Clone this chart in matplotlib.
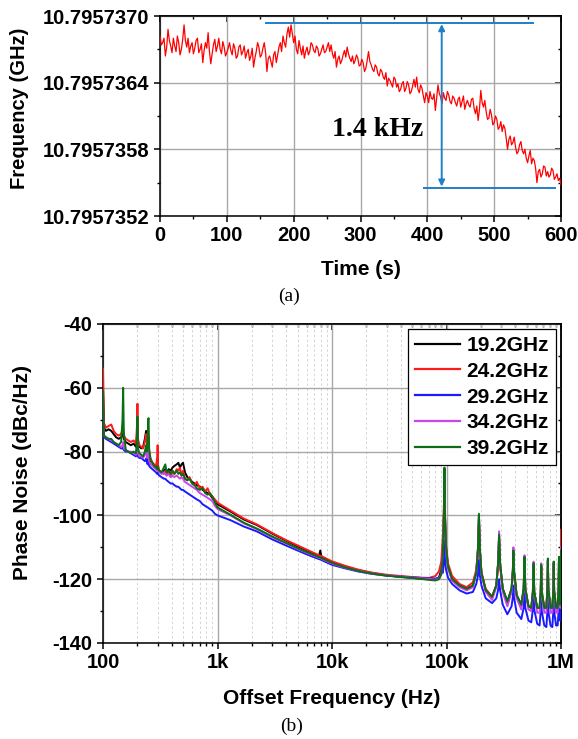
import numpy as np
import matplotlib
matplotlib.use('Agg')
import matplotlib.pyplot as plt
from matplotlib.ticker import FixedLocator, NullFormatter, LogLocator

plt.rcParams['font.family'] = ['Liberation Sans', 'DejaVu Sans']
plt.rcParams['font.weight'] = 'bold'
plt.rcParams['axes.linewidth'] = 1.1

# ---------------- (a) frequency drift ----------------
time_step_s = 2
freq_dev_hz = [  # deviation above 10.7957352 GHz, Hz, one value every 2 s
    1620, 1540, 1560, 1600, 1440, 1520, 1680, 1580, 1530, 1470,
    1600, 1530, 1480, 1620, 1560, 1450, 1500, 1590, 1720, 1580,
    1520, 1600, 1470, 1530, 1560, 1460, 1510, 1580, 1600, 1470,
    1500, 1550, 1380, 1490, 1560, 1510, 1650, 1480, 1370, 1460,
    1540, 1590, 1480, 1530, 1600, 1500, 1460, 1570, 1520, 1440,
    1470, 1510, 1560, 1490, 1450, 1550, 1510, 1420, 1440, 1520,
    1540, 1450, 1480, 1530, 1420, 1470, 1500, 1400, 1440, 1510,
    1340, 1420, 1480, 1560, 1520, 1430, 1450, 1510, 1560, 1470,
    1300, 1420, 1440, 1390, 1340, 1450, 1480, 1380, 1450, 1520,
    1560, 1480, 1620, 1560, 1520, 1640, 1700, 1610, 1720, 1640,
    1560, 1620, 1500, 1460, 1580, 1510, 1450, 1530, 1420, 1480,
    1520, 1450, 1480, 1560, 1540, 1490, 1470, 1530, 1510, 1440,
    1460, 1500, 1540, 1470, 1480, 1520, 1560, 1480, 1540, 1460,
    1420, 1480, 1340, 1410, 1440, 1370, 1400, 1450, 1490, 1430,
    1520, 1460, 1420, 1390, 1440, 1370, 1400, 1450, 1420, 1350,
    1360, 1410, 1380, 1300, 1330, 1400, 1480, 1390, 1360, 1320,
    1300, 1360, 1340, 1280, 1260, 1320, 1300, 1250, 1230, 1290,
    1170, 1240, 1220, 1190, 1160, 1250, 1230, 1160, 1190, 1120,
    1140, 1190, 1210, 1120, 1150, 1210, 1180, 1100, 1120, 1170,
    1230, 1160, 1250, 1140, 1110, 1180, 1150, 1080, 1020, 1110,
    1080, 1020, 1120, 1060, 1050, 1100, 950, 1070, 1180, 1100,
    1070, 1010, 1110, 1060, 1040, 1120, 1090, 1030, 1010, 1080,
    1060, 1020, 990, 1050, 1070, 980, 1030, 1080, 960, 1010,
    1040, 1000, 980, 1050, 1060, 970, 920, 990, 860, 960,
    1130, 1020, 980, 1040, 940, 870, 880, 960, 910, 820,
    840, 900, 870, 780, 800, 850, 760, 820, 790, 700,
    600, 690, 720, 640, 660, 710, 620, 560, 580, 640,
    670, 590, 560, 600, 520, 480, 540, 590, 470, 520,
    500, 430, 300, 400, 420, 350, 380, 450, 440, 360,
    400, 350, 370, 430, 410, 330, 350, 380, 320, 340,
    280]
time_s = np.arange(len(freq_dev_hz)) * time_step_s
base_ghz = 10.7957352
yticks_a = [0, 600, 1200, 1800]
yticks_a_minor = [300, 900, 1500]
xticks_a = [0, 100, 200, 300, 400, 500, 600]
xticks_a_minor = [50, 150, 250, 350, 450, 550]
span_label = '1.4 kHz'

# ---------------- (b) phase noise ----------------
offset_freq_hz = [
    100, 102, 106, 112, 118, 124, 130, 137, 144, 148,
    150, 152, 158, 166, 175, 185, 194, 198, 200, 202,
    208, 216, 224, 232, 238, 240, 242, 246, 248, 250,
    253, 260, 270, 280, 290, 298, 300, 302, 310, 325,
    340, 350, 360, 375, 390, 405, 420, 440, 455, 470,
    485, 500, 520, 545, 570, 600, 630, 660, 700, 740,
    780, 820, 860, 900, 950, 1000,
    1300, 1700, 2200, 3000, 4000, 5000, 6500, 7700, 7900, 8100,
    10000, 13000, 17000, 22000, 30000, 40000, 50000, 60000, 70000, 80000,
    86000, 90000,
    93000, 95000, 96000, 97000, 99000, 103000, 112000, 130000, 150000, 170000,
    182000, 188000, 192000, 196000, 202000, 220000, 250000, 272000, 282000, 288000,
    294000, 310000, 340000, 370000, 380000, 384000, 388000, 410000, 450000, 472000,
    480000, 488000, 520000, 550000, 568000, 576000, 584000, 620000, 650000, 665000,
    672000, 679000, 715000, 745000, 761000, 768000, 775000, 810000, 840000, 857000,
    864000, 871000, 905000, 935000, 953000, 960000, 967000, 985000, 995000, 1000000]

pn_19_2 = [
    -60, -72.5, -73.5, -73, -73.5, -74.5, -75.5, -76, -75.5, -75,
    -74, -76, -77, -77.5, -78, -77.5, -78.5, -75, -72, -77,
    -78.5, -79, -78.5, -76, -73.5, -74, -77, -79, -78, -77,
    -81, -82.5, -83.5, -84.5, -85, -84, -82, -85, -86, -86.5,
    -86, -85.5, -86.5, -85.5, -86, -85, -84.5, -84, -83.5, -85,
    -84, -83.5, -86.5, -88, -88.5, -89.5, -90, -90.5, -91, -92,
    -92.5, -93, -93.5, -94.5, -95.5, -96.5,
    -98.8, -101.3, -103, -105.7, -108, -109.7, -111.5, -112.7, -111, -113,
    -114.6, -116, -117.2, -118, -118.8, -119.3, -119.6, -119.8, -120, -120.2,
    -119.5, -117,
    -110, -99, -85.5, -100, -110, -116, -120, -122, -123, -122,
    -118, -111, -100, -111, -118, -123.5, -125.5, -122, -115.5, -106.5,
    -115.5, -123, -127, -123, -117, -111.5, -117, -125, -128, -123,
    -113.5, -123, -128.5, -129, -124, -115.5, -124, -129, -129, -124,
    -116, -124, -129, -129, -123, -114, -123, -129, -129, -123.5,
    -115, -123.5, -129, -129, -123, -113.5, -123, -128, -124, -111]

pn_24_2 = [
    -54, -71, -72.5, -72, -71.5, -73.5, -74.5, -75, -74.5, -73,
    -72.5, -75, -76, -76.5, -77, -76.5, -77.5, -72, -65, -76,
    -78, -78.5, -79, -77, -74.5, -75, -77, -78, -76, -75,
    -80, -82, -83.5, -84, -84.5, -82, -78, -84, -86, -86.5,
    -87, -86, -87.5, -86.5, -88, -86, -87, -85.5, -86, -85,
    -87.5, -86, -88.5, -89, -88, -90, -90.5, -89.5, -91.5, -91,
    -92.5, -91.5, -93.5, -94, -95, -96,
    -98.5, -101, -102.8, -105.5, -107.8, -109.4, -111.3, -112.5, -112.6, -112.8,
    -114.4, -115.8, -117, -117.9, -118.6, -119, -119.3, -119.5, -119.6, -119,
    -117.5, -114.5,
    -106, -96, -87, -100, -109, -115, -119, -121.5, -122.5, -121,
    -117, -111, -101.5, -112, -118, -123, -125.5, -122, -116, -108,
    -116, -123, -127.5, -123.5, -118, -112.5, -118, -125.5, -128.5, -123.5,
    -114, -123.5, -128.5, -129, -124.5, -115.5, -124.5, -129, -129, -124.5,
    -116, -124.5, -129, -129, -123.5, -114.5, -123.5, -129, -129, -124,
    -115, -124, -129, -129, -123.5, -114, -123.5, -127, -120, -104.5]

pn_29_2 = [
    -66, -75.5, -76, -76.5, -77, -77.5, -78, -78.5, -79, -79,
    -78.5, -79.5, -80, -80, -80.5, -81, -81.5, -80.5, -79.5, -81.5,
    -82, -82, -82.5, -83, -82.5, -82, -83.5, -84, -83, -82.5,
    -84.5, -85, -85.5, -86, -86.5, -87, -86.5, -87, -87.5, -88,
    -88.5, -88.5, -89, -89.5, -90, -90, -90.5, -91, -91, -91.5,
    -92, -92, -92.5, -93, -93.5, -94, -94.5, -95, -95.5, -96.5,
    -97, -97.5, -98, -98.5, -99.5, -100,
    -101.5, -103.5, -105, -107.5, -109.5, -111, -112.7, -113.7, -113.8, -114,
    -115.5, -116.6, -117.6, -118.3, -118.9, -119.2, -119.4, -119.6, -119.7, -119.8,
    -119.5, -118,
    -118, -114, -108, -114, -117, -119.5, -121.5, -123.5, -124.5, -124,
    -121.5, -119, -114, -119, -122, -126, -127.5, -126, -123.5, -120,
    -123.5, -128, -131, -128.5, -125.5, -122, -125.5, -130.5, -132.5, -129,
    -123.5, -129, -133, -133.5, -129.5, -125, -129.5, -134, -134.5, -130,
    -126, -130, -134.5, -135, -130, -125, -130, -134.5, -135, -130,
    -125.5, -130, -134.5, -134.5, -130, -125, -130, -133, -131, -123]

pn_34_2 = [
    -68, -75, -75.5, -76, -76.5, -77, -77.5, -78, -78.5, -78,
    -77, -79, -79.5, -80, -80, -80.5, -81, -79, -76, -80.5,
    -81.5, -81.5, -82, -81, -79, -79.5, -82, -81, -78, -77,
    -83, -84, -84.5, -85, -85.5, -86, -85, -86, -86.5, -87,
    -86.5, -87, -87.5, -87, -88, -87.5, -88, -87.5, -88, -88.5,
    -88, -88.5, -89.5, -90, -90.5, -91, -91.5, -92, -93, -93.5,
    -94, -94.5, -95, -95.5, -97, -98,
    -100, -102.5, -104.3, -106.8, -108.9, -110.5, -112.2, -113.3, -113.4, -113.6,
    -115.1, -116.4, -117.4, -118.2, -118.8, -119.2, -119.5, -119.7, -119.9, -120.2,
    -119.8, -118.5,
    -111, -100, -86, -101, -111, -116.5, -120.5, -122.5, -123.5, -122.5,
    -118, -111, -100, -111, -118.5, -124, -126.5, -122.5, -115, -105,
    -115, -124, -128.5, -124, -117, -110, -117, -126, -129.5, -123.5,
    -112.5, -123.5, -129.5, -130, -124.5, -114.5, -124.5, -130.5, -130.5, -124.5,
    -115, -124.5, -130.5, -130.5, -123.5, -114, -123.5, -130.5, -130.5, -124,
    -114.5, -124, -130.5, -130.5, -123.5, -113, -123.5, -129, -125, -110]

pn_39_2 = [
    -61, -75, -75.5, -76, -76, -77, -77.5, -78, -77, -70,
    -60, -74, -79.5, -80, -80.5, -80, -80.5, -76, -69, -79,
    -80.5, -81, -81.5, -80, -78, -78.5, -80, -75, -70, -69.5,
    -79, -83, -83.5, -84.5, -85, -85.5, -84.5, -85.5, -86, -86.5,
    -85, -84, -86.5, -86, -87, -86, -87, -86, -87, -86.5,
    -87.5, -87, -88.5, -89, -88.5, -90, -90.5, -91.5, -92, -91.5,
    -93, -93.5, -93, -94, -96, -97.5,
    -99.8, -102.3, -104.1, -106.6, -108.7, -110.3, -112, -113.1, -113.2, -113.4,
    -114.9, -116.3, -117.4, -118.2, -118.9, -119.3, -119.6, -119.9, -120.2, -120.4,
    -120, -118.5,
    -112, -100, -85, -100, -110, -116, -120, -122, -123, -122,
    -118, -111, -99.5, -111, -118, -123.5, -125.5, -122, -115, -106,
    -115, -123, -127, -123, -117, -111, -117, -125, -128, -123,
    -113, -123, -128.5, -129, -124, -115, -124, -129, -129, -124,
    -115.5, -124, -129, -129, -123, -113.5, -123, -129, -129, -123.5,
    -114.5, -123.5, -129, -129, -123, -113, -123, -128, -124, -111]

series_labels = ['19.2GHz', '24.2GHz', '29.2GHz', '34.2GHz', '39.2GHz']
series_values = [pn_19_2, pn_24_2, pn_29_2, pn_34_2, pn_39_2]
series_colors = ['#000000', '#ff1a1a', '#1a1aff', '#cc44ee', '#0a6e14']
xticks_b = [1e2, 1e3, 1e4, 1e5, 1e6]
xticklabels_b = ['100', '1k', '10k', '100k', '1M']
yticks_b = [-140, -120, -100, -80, -60, -40]
yticks_b_minor = [-130, -110, -90, -70, -50]

TICK_FS = 14.5
LABEL_FS = 15

fig = plt.figure(figsize=(5.78, 7.39), dpi=100)
W, H = 578, 739

def axes_rect(x0, y0, x1, y1):
    return [x0 / W, 1 - y1 / H, (x1 - x0) / W, (y1 - y0) / H]

def style_ticks(ax):
    ax.tick_params(axis='both', which='major', direction='out', length=4.5,
                   width=1.1, labelsize=TICK_FS, pad=3)
    ax.tick_params(axis='both', which='minor', direction='out', length=2.5,
                   width=1.0)
    for lab in ax.get_xticklabels() + ax.get_yticklabels():
        lab.set_fontweight('bold')

# ---------- panel (a) ----------
ax1 = fig.add_axes(axes_rect(160, 16, 561, 216))
ax1.plot(time_s, freq_dev_hz, color='#ff0000', lw=0.9, zorder=3)
ax1.set_xlim(0, 600)
ax1.set_ylim(0, 1800)
ax1.xaxis.set_major_locator(FixedLocator(xticks_a))
ax1.xaxis.set_minor_locator(FixedLocator(xticks_a_minor))
ax1.yaxis.set_major_locator(FixedLocator(yticks_a))
ax1.yaxis.set_minor_locator(FixedLocator(yticks_a_minor))
ax1.set_yticklabels([f'{base_ghz + v * 1e-9:.7f}' for v in yticks_a])
ax1.set_xticklabels([str(v) for v in xticks_a])
ax1.grid(True, which='major', color='#a8a8a8', lw=1.0)
ax1.set_axisbelow(True)
style_ticks(ax1)
ax1.set_xlabel('Time (s)', fontsize=LABEL_FS, fontweight='bold')
ax1.xaxis.label.set_va('center')
ax1.xaxis.set_label_coords(0.5, -0.2675)
ax1.set_ylabel('Frequency (GHz)', fontsize=14.5, fontweight='bold')
ax1.yaxis.label.set_va('center')
ax1.yaxis.set_label_coords(-0.350, 0.5375)

sec = ax1.secondary_xaxis('top')
sec.xaxis.set_major_locator(FixedLocator(xticks_a))
sec.xaxis.set_minor_locator(FixedLocator(xticks_a_minor))
sec.tick_params(which='major', direction='in', length=4.5, width=1.1, labeltop=False)
sec.tick_params(which='minor', direction='in', length=2.5, width=1.0)
sec.xaxis.set_major_formatter(NullFormatter())
secy = ax1.secondary_yaxis('right')
secy.yaxis.set_major_locator(FixedLocator(yticks_a))
secy.yaxis.set_minor_locator(FixedLocator(yticks_a_minor))
secy.tick_params(which='major', direction='in', length=4.5, width=1.1, labelright=False)
secy.tick_params(which='minor', direction='in', length=2.5, width=1.0)
secy.yaxis.set_major_formatter(NullFormatter())

# span annotation
ann_color = '#1f7fc8'
top_level, bottom_level = 1737, 255
ax1.plot([159, 558], [top_level, top_level], color=ann_color, lw=1.4, zorder=4)
ax1.plot([395, 591], [bottom_level, bottom_level], color=ann_color, lw=1.4, zorder=4)
ax1.annotate('', xy=(421.5, top_level - 10), xytext=(421.5, bottom_level + 10),
             arrowprops=dict(arrowstyle='<|-|>', color=ann_color, lw=1.4,
                             mutation_scale=9, shrinkA=0, shrinkB=0), zorder=4)
ax1.text(325, 775, span_label, fontsize=20, fontweight='bold',
         family=['Liberation Serif', 'DejaVu Serif'], ha='center', va='center', zorder=5)

fig.text(289 / W, 1 - 296 / H, '(a)', fontsize=14, fontweight='normal',
         family=['Liberation Serif', 'DejaVu Serif'], ha='center', va='center')

# ---------- panel (b) ----------
ax2 = fig.add_axes(axes_rect(103, 324, 561, 643))
for vals, lab, col in zip(series_values, series_labels, series_colors):
    ax2.plot(offset_freq_hz, vals, color=col, lw=1.4, label=lab, zorder=3)
ax2.set_xscale('log')
ax2.set_xlim(1e2, 1e6)
ax2.set_ylim(-140, -40)
ax2.xaxis.set_major_locator(FixedLocator(xticks_b))
ax2.set_xticklabels(xticklabels_b)
ax2.xaxis.set_minor_locator(LogLocator(base=10, subs=np.arange(2, 10)))
ax2.xaxis.set_minor_formatter(NullFormatter())
ax2.yaxis.set_major_locator(FixedLocator(yticks_b))
ax2.yaxis.set_minor_locator(FixedLocator(yticks_b_minor))
ax2.set_yticklabels([str(v) for v in yticks_b])
ax2.grid(True, which='major', color='#a8a8a8', lw=1.0)
ax2.grid(True, which='minor', axis='x', color='#d4d4d4', lw=0.7, ls=(0, (2.5, 2.5)))
ax2.set_axisbelow(True)
style_ticks(ax2)
ax2.set_xlabel('Offset Frequency (Hz)', fontsize=LABEL_FS, fontweight='bold')
ax2.xaxis.label.set_va('center')
ax2.xaxis.set_label_coords(0.5, -0.1755)
ax2.set_ylabel('Phase Noise (dBc/Hz)', fontsize=LABEL_FS, fontweight='bold')
ax2.yaxis.label.set_va('center')
ax2.yaxis.set_label_coords(-0.175, 0.534)

sec2 = ax2.secondary_xaxis('top')
sec2.xaxis.set_major_locator(FixedLocator(xticks_b))
sec2.xaxis.set_minor_locator(LogLocator(base=10, subs=np.arange(2, 10)))
sec2.xaxis.set_major_formatter(NullFormatter())
sec2.xaxis.set_minor_formatter(NullFormatter())
sec2.tick_params(which='major', direction='in', length=4.5, width=1.1)
sec2.tick_params(which='minor', direction='in', length=2.5, width=1.0)
secy2 = ax2.secondary_yaxis('right')
secy2.yaxis.set_major_locator(FixedLocator(yticks_b))
secy2.yaxis.set_minor_locator(FixedLocator(yticks_b_minor))
secy2.yaxis.set_major_formatter(NullFormatter())
secy2.tick_params(which='major', direction='in', length=4.5, width=1.1)
secy2.tick_params(which='minor', direction='in', length=2.5, width=1.0)

leg = ax2.legend(loc='upper right', prop={'weight': 'bold', 'size': LABEL_FS},
                 frameon=True, fancybox=False, edgecolor='black', framealpha=1,
                 borderaxespad=0.25, handlelength=2.2, handletextpad=0.3,
                 labelspacing=0.33, borderpad=0.32)
leg.get_frame().set_linewidth(0.9)
for line in leg.get_lines():
    line.set_linewidth(1.6)
leg.set_zorder(10)

fig.text(292 / W, 1 - 726 / H, '(b)', fontsize=14, fontweight='normal',
         family=['Liberation Serif', 'DejaVu Serif'], ha='center', va='center')

fig.savefig('out.png', dpi=100)
